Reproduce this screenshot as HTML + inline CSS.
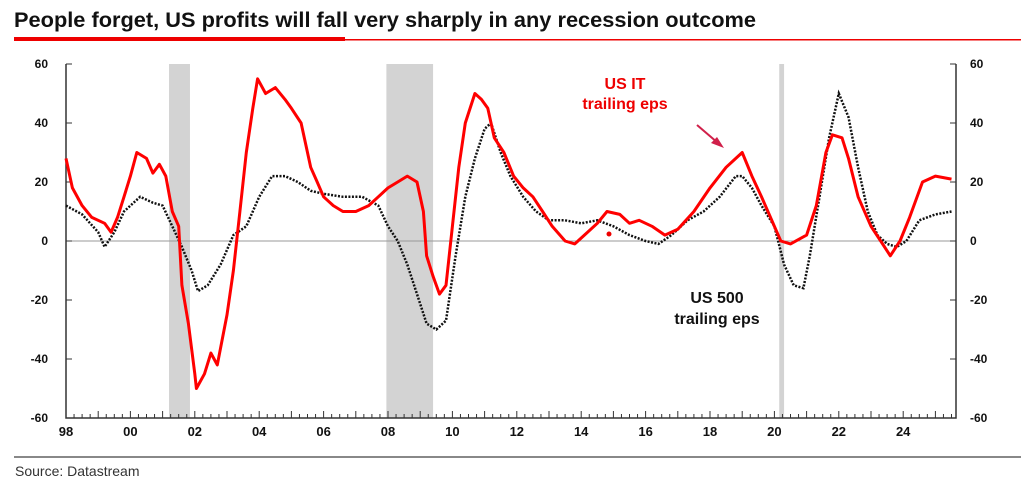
<!DOCTYPE html>
<html><head><meta charset="utf-8"><style>
body{margin:0;width:1021px;height:486px;background:#fff;overflow:hidden;font-family:"Liberation Sans",sans-serif;}
</style></head><body>
<svg width="1021" height="486" xmlns="http://www.w3.org/2000/svg">
<text x="14" y="27" font-size="21" font-weight="bold" fill="#111" textLength="742" lengthAdjust="spacingAndGlyphs">People forget, US profits will fall very sharply in any recession outcome</text>
<rect x="14" y="37" width="331" height="4" fill="#e00"/>
<rect x="345" y="39" width="676" height="1.5" fill="#e00"/>
<g id="rec"></g><g id="axes"></g><g id="series"></g>
<text x="625" y="89" font-size="16" font-weight="bold" fill="#e00" text-anchor="middle">US IT</text>
<text x="625" y="109" font-size="16" font-weight="bold" fill="#e00" text-anchor="middle">trailing eps</text>
<line x1="697" y1="125" x2="718" y2="143" stroke="#d0204a" stroke-width="2"/>
<polygon points="724,148 711,143 717,137" fill="#d0204a"/>
<text x="717" y="303" font-size="16" font-weight="bold" fill="#111" text-anchor="middle">US 500</text>
<text x="717" y="324" font-size="16" font-weight="bold" fill="#111" text-anchor="middle">trailing eps</text>
<circle cx="609" cy="234" r="2.5" fill="#e00"/>
<rect x="14" y="456" width="1007" height="2" fill="#888"/>
<text x="15" y="476" font-size="14" fill="#333">Source: Datastream</text>
</svg>
<script>
const yTicks=[60,40,20,0,-20,-40,-60];
const xLabels=["98","00","02","04","06","08","10","12","14","16","18","20","22","24"];
const recessions=[[2001.2,2001.85],[2007.95,2009.4],[2020.15,2020.3]];
const itYears=[1998,1998.2,1998.5,1998.8,1999.2,1999.4,1999.6,1999.8,2000,2000.2,2000.5,2000.7,2000.9,2001.1,2001.3,2001.5,2001.6,2001.8,2002,2002.05,2002.3,2002.5,2002.7,2003,2003.2,2003.4,2003.6,2003.8,2003.95,2004.2,2004.5,2004.8,2005,2005.3,2005.6,2005.8,2006,2006.3,2006.6,2007,2007.4,2007.7,2008,2008.3,2008.6,2008.9,2009.1,2009.2,2009.4,2009.6,2009.8,2010,2010.2,2010.4,2010.7,2010.9,2011.1,2011.3,2011.6,2011.9,2012.2,2012.5,2012.8,2013.1,2013.5,2013.8,2014.1,2014.5,2014.8,2015.2,2015.5,2015.8,2016.2,2016.6,2017,2017.5,2018,2018.5,2018.8,2019,2019.3,2019.6,2020,2020.2,2020.5,2021,2021.3,2021.6,2021.8,2022.1,2022.3,2022.6,2023,2023.3,2023.6,2023.9,2024.2,2024.6,2025,2025.5];
const itValues=[28,18,12,8,6,3,8,15,22,30,28,23,26,22,10,5,-15,-28,-45,-50,-45,-38,-42,-25,-10,10,30,45,55,50,52,48,45,40,25,20,15,12,10,10,12,15,18,20,22,20,10,-5,-12,-18,-15,5,25,40,50,48,45,35,30,22,18,15,10,5,0,-1,2,6,10,9,6,7,5,2,4,10,18,25,28,30,22,15,5,0,-1,2,12,30,36,35,28,15,5,0,-5,0,8,20,22,21];
const spYears=[1998,1998.5,1999,1999.2,1999.5,1999.8,2000.3,2000.7,2001,2001.3,2001.6,2001.9,2002.1,2002.4,2002.8,2003.2,2003.6,2004,2004.4,2004.8,2005.2,2005.6,2006,2006.6,2007.2,2007.7,2008,2008.3,2008.6,2008.9,2009.2,2009.5,2009.8,2010.1,2010.4,2010.7,2011,2011.2,2011.5,2011.8,2012.2,2012.6,2013,2013.5,2014,2014.5,2015,2015.5,2016,2016.4,2016.8,2017.3,2017.8,2018.3,2018.8,2019,2019.3,2019.6,2020,2020.3,2020.6,2020.9,2021.1,2021.4,2021.7,2022,2022.3,2022.6,2022.9,2023.2,2023.5,2023.8,2024.1,2024.5,2025,2025.5];
const spValues=[12,9,3,-2,3,10,15,13,12,5,-2,-10,-17,-15,-8,2,5,15,22,22,20,17,16,15,15,12,5,0,-8,-18,-28,-30,-27,-5,15,28,38,40,30,22,15,10,7,7,6,7,5,2,0,-1,2,7,10,15,22,22,18,12,5,-8,-15,-16,-5,15,35,50,42,25,10,2,-1,-2,0,7,9,10];
const NS='http://www.w3.org/2000/svg';
const X=yr=>66+(yr-1998)*32.2, Y=v=>241-v*2.95;
function mk(tag,attrs,parent){const e=document.createElementNS(NS,tag);for(const k in attrs)e.setAttribute(k,attrs[k]);document.getElementById(parent).appendChild(e);return e;}
recessions.forEach(r=>{const e=mk('rect',{x:X(r[0]),y:64,width:X(r[1])-X(r[0]),height:354,fill:'#d3d3d3'},'rec');

});
const z=mk('line',{x1:66,x2:956,y1:Y(0),y2:Y(0),stroke:'#999','stroke-width':1},'axes');


const fr=mk('path',{d:'M66,64 L66,418 L956,418 L956,64',fill:'none',stroke:'#333','stroke-width':1.5},'axes');


yTicks.forEach(v=>{
 for(const side of [0,1]){const t=mk('text',{x:side?970:48,y:Y(v)+4,'font-size':12,'font-weight':'bold','text-anchor':side?'start':'end',fill:'#111'},'axes');t.textContent=v;
 
 }
 const a=mk('line',{x1:66,x2:72,y1:Y(v),y2:Y(v),stroke:'#333'},'axes');
 const b=mk('line',{x1:950,x2:956,y1:Y(v),y2:Y(v),stroke:'#333'},'axes');
});
for(let q=0;q<=27.6*4;q++){const yr=1998+q/4;const m=mk('line',{x1:X(yr),x2:X(yr),y1:418,y2:q%4?414:411,stroke:'#333'},'axes');

}
xLabels.forEach((l,i)=>{const t=mk('text',{x:X(1998+2*i),y:436,'font-size':13,'font-weight':'bold','text-anchor':'middle',fill:'#111'},'axes');t.textContent=l;

});
function pts(xs,vs){return xs.map((x,i)=>X(x).toFixed(1)+','+Y(vs[i]).toFixed(1)).join(' ');}
const sp=mk('polyline',{points:pts(spYears,spValues),fill:'none',stroke:'#111','stroke-width':2.5,'stroke-dasharray':'2,1.5'},'series');


const it=mk('polyline',{points:pts(itYears,itValues),fill:'none',stroke:'#f00','stroke-width':3,'stroke-linejoin':'round'},'series');


</script>
</body></html>
